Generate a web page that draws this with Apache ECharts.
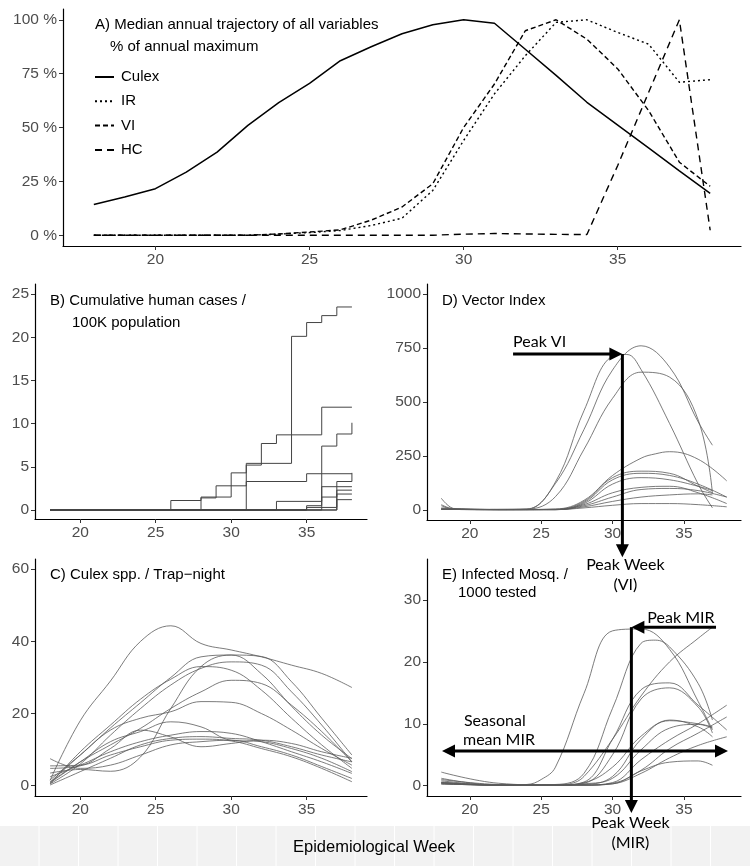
<!DOCTYPE html>
<html><head><meta charset="utf-8">
<script src="https://cdn.jsdelivr.net/npm/echarts@6/dist/echarts.min.js"></script>
<style>html,body{margin:0;padding:0;background:#fff}#c{width:750px;height:866px}</style>
</head><body><div id="c"></div>
<script>
// ---------- Panel A: medians (% of annual maximum), weeks 18..38 ----------
const weeksA = [18,19,20,21,22,23,24,25,26,27,28,29,30,31,32,33,34,35,36,37,38];
const medCulex = [14.3,17.7,21.6,29.3,38.6,51,61.5,70.5,81,87.5,93.5,97.7,100,98.4,86.3,74.2,61.7,51.1,40.5,29.9,19.4];
const medIR    = [0,0,0,0,0,0,0.5,1.2,2.2,4.5,7.9,20.8,44,65.6,83.3,98.8,100,94.1,88.7,71,72.2];
const medVI    = [0,0,0,0,0,0,0.6,1.5,2.5,7,13.1,23.9,50,70.2,94.9,100,91,77.2,57.9,33.9,22.7];
const medHC    = [0,0,0,0,0,0,0,0,0,0,0,0,0.5,0.8,0.6,0.4,0.3,32.4,66.2,100,2.3];
const legendNames = ['Culex','IR','VI','HC'];

// ---------- Panel B: cumulative human cases / 100K (step change points) ----------
const hcW1 = [18,31,34,35,36,37,38],    hcV1 = [0,5.4,20.1,21.7,22.5,23.5,23.5];
const hcW2 = [18,28,30,31,32,33,36,38], hcV2 = [0,1.5,4.3,5.2,7.7,8.7,11.9,11.9];
const hcW3 = [18,26,28,29,31,35,38],    hcV3 = [0,1.1,1.4,2.8,3.3,4.2,4.2];
const hcW4 = [18,36,37,38],             hcV4 = [0,7.4,8.8,10.1];
const hcW5 = [18,33,36,38],             hcV5 = [0,1.0,2.7,2.7];
const hcW6 = [18,35,36,37,38],          hcV6 = [0,0.5,1.5,3.3,4.3];
const hcW7 = [18,35,37,38],             hcV7 = [0,0.3,2.3,2.3];
const hcW8 = [18,37,38],                hcV8 = [0,1.85,1.85];
const hcW9 = [18,37,38],                hcV9 = [0,1.2,1.2];

// ---------- Panel C: Culex spp. / trap-night ----------
const cxWeeks = [18,20,22,24,26,28,30,32,34,36,38];
const cx1  = [1.5,18,29,40,44.3,39.4,37.6,35.7,33.4,31.1,27.2];
const cx2  = [1,8.5,16,23,30,35.7,36.2,31,22,14,7.5];
const cx3  = [3.5,4.5,4,8,21.4,33,36.2,35.8,28.8,18.7,8.5];
const cx4  = [0.5,9.4,16.8,24,29.5,33,32,26.5,18.7,11.3,4.8];
const cx5  = [1,6.6,11.3,15.9,21.4,26,29.2,28.3,22.3,15,6.6];
const cx6  = [1.6,8.5,15.4,18.7,20.5,23.3,23.1,20,15.4,10.3,5.7];
const cx7  = [0.8,6.6,12.2,15,17.7,16.3,12.6,12.2,10.3,7.6,3.9];
const cx8  = [4.8,5.5,10.3,15.4,13.5,10.8,11.7,12.6,11.7,9.4,7.6];
const cx9  = [2.5,5.7,9.4,12.2,14,15,14.5,12.2,9.4,6.6,3.4];
const cx10 = [0.2,3.9,7.6,11.3,13.1,13.6,13.1,12.6,10.8,8.5,6.6];
const cx11 = [7.5,4.8,5.7,8.5,11.3,12.2,12.6,10.8,8.5,5.3,2];
const cx12 = [5.5,5.7,8.5,10.8,12.6,12.9,12.4,10.3,8,4.8,1.1];
const cx13 = [0.5,6,14,21.4,27.9,32.5,34.3,33.4,26,16.8,6.6];

// ---------- Panel D: Vector Index ----------
const viW1 = [18,20,22,24,26,28,30,31,32,34,36,37], viV1 = [5,2,3,5,130,460,712,720,650,400,120,10];
const viW2 = [18,22,24,26,28,30,32,34,36,37],       viV2 = [5,3,4,123,373,648,760,661,408,300];
const viW3 = [18,22,24,26,28,30,32,34,36,37],       viV3 = [5,3,4,62,281,517,638,615,417,77];
const viW4 = [18,22,26,28,30,32,33,34,36,38],       viV4 = [5,2,5,45,160,240,260,270,235,135];
const viW5 = [18,22,26,28,30,32,34,36,37],          viV5 = [3,2,3,40,150,180,170,110,80];
const viW6 = [18,19,22,26,28,30,32,34,36,38],       viV6 = [20,3,2,3,35,140,170,160,120,60];
const viW7 = [18,22,26,28,30,32,34,36,37],          viV7 = [4,2,3,30,120,150,140,110,90];
const viW8 = [18,19,22,26,28,30,32,34,36,38],       viV8 = [55,5,2,2,25,80,105,110,80,30];
const viW9 = [18,19,22,26,28,30,32,34,36,38],       viV9 = [25,4,2,2,20,60,95,100,90,60];
const viW10 = [18,22,26,28,30,32,34,36,37],         viV10 = [3,2,2,15,40,60,70,75,70];
const viW11 = [18,22,26,28,30,32,34,36,38],         viV11 = [10,2,2,10,22,30,30,25,15];

// ---------- Panel E: Infected mosquitoes / 1000 tested ----------
const irW1 = [18,20,22,24,25,26,28,30,32,34,36,37], irV1 = [0.5,0.2,0.1,0.2,1,3,14.9,25,25.3,22,13.6,9];
const irW2 = [18,22,26,28,30,32,33,34,36,37],    irV2 = [0.8,0.1,0.2,2,12.5,23,23.5,22.4,16.5,10.6];
const irW3 = [18,22,26,27,28,30,32,34,36,37],    irV3 = [0.3,0.1,0.1,0.3,1.5,7.5,14.5,20,23.8,25.6];
const irW4 = [18,22,26,28,30,32,34,36,38],       irV4 = [0.5,0.1,0.1,0.6,7.5,15.5,16.6,13,9];
const irW5 = [18,22,26,28,30,32,34,36,37],       irV5 = [1.2,0.1,0.1,0.4,5,14,15.8,12.7,8.5];
const irW6 = [18,22,26,28,30,32,34,36,37],       irV6 = [0.6,0.1,0.1,0.2,1.5,7.5,10.6,9.5,7.9];
const irW7 = [18,22,26,28,30,32,34,36,38],       irV7 = [0.4,0.1,0.1,0.1,0.5,4.2,7.4,10,13];
const irW8 = [18,22,26,28,30,32,34,36,38],       irV8 = [0.3,0.1,0.1,0.1,0.4,2.5,6,8.5,11.1];
const irW9 = [18,22,26,28,30,32,34,36,37],       irV9 = [0.5,0.1,0.1,0.3,1.2,5.8,9.3,9.9,9.3];
const irW10 = [18,22,26,28,30,32,34,36,38],      irV10 = [0.3,0.1,0.1,0.1,0.3,2,4.5,6.5,7.9];
const irW11 = [18,22,26,28,30,32,34,36,37],      irV11 = [2.2,0.4,0.1,0.1,0.3,2.4,3.8,4,3.3];
const irW12 = [18,22,26,28,30,32,34,36,37],      irV12 = [1,0.2,0.1,0.5,3,8,10.5,10,9.5];

// ---------- tick labels ----------
const xTicks = [20,25,30,35];
const yTicksA = [0,25,50,75,100];
const yTicksB = [0,5,10,15,20,25];
const yTicksC = [0,20,40,60];
const yTicksD = [0,250,500,750,1000];
const yTicksE = [0,10,20,30];

const FONT = '"Liberation Sans", Arial, sans-serif';
const ANN = 'Lato, "Open Sans", sans-serif';
const pairs = (w, v) => w.map((x, i) => [x, v[i]]);

function xAx(gi) {
  return {type:'value', gridIndex:gi, min:17, max:39,
    axisLine:{show:true, onZero:false, lineStyle:{color:'#000', width:1.2}},
    axisTick:{show:true, length:4, customValues:xTicks, lineStyle:{color:'#333', width:1}},
    axisLabel:{customValues:xTicks, color:'#4d4d4d', fontSize:15.5, fontFamily:FONT, margin:6},
    splitLine:{show:false}};
}
function yAx(gi, min, max, ticks, fmt) {
  return {type:'value', gridIndex:gi, min:min, max:max,
    axisLine:{show:true, onZero:false, lineStyle:{color:'#000', width:1.2}},
    axisTick:{show:true, length:4, customValues:ticks, lineStyle:{color:'#333', width:1}},
    axisLabel:{customValues:ticks, color:'#4d4d4d', fontSize:15.5, fontFamily:FONT, margin:6,
      formatter: fmt || (v => String(v))},
    splitLine:{show:false}};
}
function thin(gi, data, opts) {
  return Object.assign({type:'line', xAxisIndex:gi, yAxisIndex:gi, data:data, symbol:'none',
    silent:true, animation:false, lineStyle:{color:'#5a5a5a', width:0.8}}, opts || {});
}

const series = [];
// Panel A
const aStyles = [
  {type:'solid', width:1.5},
  {type:[2,3], width:1.4},
  {type:[5,3], width:1.4},
  {type:[7,5], width:1.4}
];
[medCulex, medIR, medVI, medHC].forEach((vals, i) => {
  series.push({type:'line', name:legendNames[i], xAxisIndex:0, yAxisIndex:0, data:pairs(weeksA, vals),
    symbol:'none', showSymbol:false, animation:false,
    lineStyle:Object.assign({color:'#000'}, aStyles[i]), itemStyle:{color:'#000'}});
});
// Panel B
[[hcW1,hcV1],[hcW2,hcV2],[hcW3,hcV3],[hcW4,hcV4],[hcW5,hcV5],[hcW6,hcV6],[hcW7,hcV7],[hcW8,hcV8],[hcW9,hcV9]]
  .forEach(([w,v]) => series.push(thin(1, pairs(w,v), {step:'end', lineStyle:{color:'#444', width:1}})));
// Panel C
[cx1,cx2,cx3,cx4,cx5,cx6,cx7,cx8,cx9,cx10,cx11,cx12,cx13]
  .forEach(v => series.push(thin(2, pairs(cxWeeks, v), {smooth:0.4})));
// Panel D
[[viW1,viV1],[viW2,viV2],[viW3,viV3],[viW4,viV4],[viW5,viV5],[viW6,viV6],[viW7,viV7],[viW8,viV8],[viW9,viV9],[viW10,viV10],[viW11,viV11]]
  .forEach(([w,v]) => series.push(thin(3, pairs(w,v), {smooth:0.4})));
// Panel E
[[irW1,irV1],[irW2,irV2],[irW3,irV3],[irW4,irV4],[irW5,irV5],[irW6,irV6],[irW7,irV7],[irW8,irV8],[irW9,irV9],[irW10,irV10],[irW11,irV11],[irW12,irV12]]
  .forEach(([w,v]) => series.push(thin(4, pairs(w,v), {smooth:0.4})));

const chart = echarts.init(document.getElementById('c'), null, {renderer:'canvas'});
chart.setOption({
  backgroundColor:'#fff',
  animation:false,
  grid:[
    {left:63, top:9, width:678, height:237},
    {left:35, top:284, width:332, height:235},
    {left:35, top:559, width:332, height:237},
    {left:427, top:284, width:314, height:236},
    {left:427, top:559, width:314, height:237}
  ],
  xAxis:[xAx(0), xAx(1), xAx(2), xAx(3), xAx(4)],
  yAxis:[
    yAx(0, -5, 105, yTicksA, v => v + ' %'),
    yAx(1, -1.04, 26.16, yTicksB),
    yAx(2, -2.85, 62.8, yTicksC),
    yAx(3, -46, 1046, yTicksD),
    yAx(4, -1.66, 36.6, yTicksE)
  ],
  legend:{data:legendNames, orient:'vertical', left:89, top:64.5, itemWidth:19, itemHeight:15, itemGap:9.3,
    itemStyle:{opacity:0}, selectedMode:false,
    textStyle:{fontSize:15, color:'#000', fontFamily:FONT, padding:[0,0,0,2]}},
  series:series
});

// ---------- annotations & texts ----------
const px = (gi, pt) => chart.convertToPixel({gridIndex:gi}, pt);
const G = [];
function txt(x, y, s, opt) {
  G.push({type:'text', silent:true, z:50, style:Object.assign({x:x, y:y, text:s, fill:'#000', fontSize:15,
    fontFamily:FONT, align:'left', verticalAlign:'middle'}, opt || {})});
}
function head(tx, ty, dx, dy) {
  const L = 13, W = 6.5, px_ = -dy, py_ = dx;
  const bx = tx - dx*L, by = ty - dy*L;
  G.push({type:'polygon', silent:true, z:60, shape:{points:[[tx,ty],[bx+px_*W,by+py_*W],[bx-px_*W,by-py_*W]]}, style:{fill:'#000'}});
}
function seg(x1,y1,x2,y2) {
  G.push({type:'line', silent:true, z:60, shape:{x1:x1,y1:y1,x2:x2,y2:y2}, style:{stroke:'#000', lineWidth:3}});
}
// band
G.push({type:'rect', silent:true, z:1, shape:{x:0, y:826, width:750, height:40}, style:{fill:'#f2f2f2'}});
for (let x = 39; x < 750; x += 39.5) G.push({type:'line', silent:true, z:2, shape:{x1:x, y1:826, x2:x, y2:866}, style:{stroke:'#ffffff', lineWidth:1}});
txt(374, 847, 'Epidemiological Week', {align:'center', fontSize:16.5});

// panel titles
txt(95, 25, 'A) Median annual trajectory of all variables');
txt(110, 47, '% of annual maximum');
txt(50, 301, 'B) Cumulative human cases /');
txt(72, 323, '100K population');
txt(50, 575, 'C) Culex spp. / Trap\u2212night');
txt(442, 301, 'D) Vector Index');
txt(442, 575, 'E) Infected Mosq. /');
txt(458, 593, '1000 tested');

// Peak VI
const vA = px(3, [23.03, 722]), vP = px(3, [30.69, 722]), vB = px(3, [30.69, -218]);
seg(vA[0], vA[1], vP[0]-11, vP[1]); head(vP[0], vP[1], 1, 0);
seg(vP[0], vP[1], vB[0], vB[1]-11); head(vB[0], vB[1], 0, 1);
txt(vA[0], vA[1]-12, 'Peak VI', {fontFamily:ANN, fontSize:16});
txt(vB[0]+3, vB[1]+8, 'Peak Week', {fontFamily:ANN, fontSize:16, align:'center'});
txt(vB[0]+3, vB[1]+28, '(VI)', {fontFamily:ANN, fontSize:16, align:'center'});

// Peak MIR
const mS = px(4, [37.25, 25.6]), mP = px(4, [31.32, 25.6]), mB = px(4, [31.32, -4.4]);
seg(mS[0], mS[1], mP[0]+11, mP[1]); head(mP[0], mP[1], -1, 0);
seg(mP[0], mP[1], mB[0], mB[1]-11); head(mB[0], mB[1], 0, 1);
const mT = px(4, [32.44, 27.1]);
txt(mT[0], mT[1], 'Peak MIR', {fontFamily:ANN, fontSize:16});
txt(mB[0]-1, mB[1]+10, 'Peak Week', {fontFamily:ANN, fontSize:16, align:'center'});
txt(mB[0]-1, mB[1]+30, '(MIR)', {fontFamily:ANN, fontSize:16, align:'center'});

// Seasonal mean MIR
const sL = px(4, [18.05, 5.6]), sR = px(4, [38.09, 5.6]);
seg(sL[0]+11, sL[1], sR[0]-11, sR[1]); head(sL[0], sL[1], -1, 0); head(sR[0], sR[1], 1, 0);
txt(sL[0]+22, sL[1]-30, 'Seasonal', {fontFamily:ANN, fontSize:16});
txt(sL[0]+21, sL[1]-11, 'mean MIR', {fontFamily:ANN, fontSize:16});

chart.setOption({graphic:{elements:G}});
</script></body></html>
